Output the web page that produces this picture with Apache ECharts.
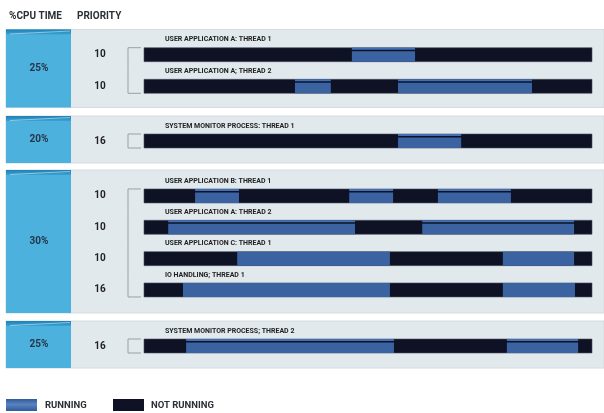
<!DOCTYPE html>
<html>
<head>
<meta charset="utf-8">
<title>CPU time by thread</title>
<script src="https://cdn.jsdelivr.net/npm/echarts@6/dist/echarts.min.js"></script>
<style>
  html, body { margin: 0; padding: 0; background: #ffffff; }
</style>
</head>
<body>
<div id="main" style="width:604px;height:413px;"></div>
<script type="text/javascript">
// cpu share per group
var cpuShare = ['25%', '20%', '30%', '25%'];

// one entry per thread
var threadNames = [
    'USER APPLICATION A: THREAD 1',
    'USER APPLICATION A; THREAD 2',
    'SYSTEM MONITOR PROCESS: THREAD 1',
    'USER APPLICATION B: THREAD 1',
    'USER APPLICATION A: THREAD 2',
    'USER APPLICATION C: THREAD 1',
    'IO HANDLING; THREAD 1',
    'SYSTEM MONITOR PROCESS; THREAD 2'
];
var priorities = [10, 10, 16, 10, 10, 10, 16, 16];
var threadGroup = [0, 0, 1, 2, 2, 2, 2, 3];

// running periods (time axis 0..100)
var runThread = [0, 1, 1, 2, 3, 3, 3, 4, 4, 5, 5, 6, 6, 7, 7];
var runStart  = [46.4, 33.7, 56.7, 56.7, 11.4, 45.8, 65.6, 5.4, 62.1, 20.8, 80.1, 8.7, 80.1, 9.4, 81.0];
var runEnd    = [60.5, 41.7, 86.6, 70.8, 21.2, 55.6, 81.9, 47.1, 96.0, 54.9, 96.0, 54.9, 96.2, 55.8, 96.9];

// layout, not data
var timeMax = 100;
var panelTop = [29.5, 116, 170, 321];
var panelHeight = [78, 47, 143, 47];
var gridTop = [38.9, 125, 180.3, 330];
var gridRowH = [31.6, 32, 31.33, 32];
var flatThreads = [5, 6];   // running blocks drawn without the top stripe
var barH = 14;

var DARK = '#0e1224';
var BLUE = '#3b63a2';
var SKY = '#4cb1dc';

var mychart = echarts.init(document.getElementById('main'));

function rowInGroup(t) {
    var n = 0;
    for (var i = 0; i < t; i++) if (threadGroup[i] === threadGroup[t]) n++;
    return n;
}

function renderTrack(params, api) {
    var t = api.value(3);
    var p0 = api.coord([api.value(0), api.value(2)]);
    var p1 = api.coord([api.value(1), api.value(2)]);
    var cy = p0[1];
    var band = api.size([0, 1])[1];
    var g = threadGroup[t];
    var first = t === 0 || threadGroup[t - 1] !== g;
    var last = t === threadGroup.length - 1 || threadGroup[t + 1] !== g;
    var bx = p0[0] - 16, bx2 = p0[0] - 3;
    var y0 = first ? cy - barH / 2 : cy - band / 2;
    var y1 = last ? cy + barH / 2 : cy + band / 2;
    var kids = [
        { type: 'rect', shape: { x: p0[0], y: cy - barH / 2, width: p1[0] - p0[0], height: barH },
          style: { fill: DARK, stroke: '#4a5060', lineWidth: 0.6 } },
        { type: 'text', style: { x: p0[0] + 21, y: cy - 15, text: threadNames[t], fill: '#222',
          font: 'bold 7px Roboto', textVerticalAlign: 'middle' } },
        { type: 'text', style: { x: p0[0] - 44, y: cy, text: String(priorities[t]), fill: '#1f1f1f',
          font: 'bold 10px Roboto', textAlign: 'center', textVerticalAlign: 'middle' } },
        { type: 'line', shape: { x1: bx, y1: y0, x2: bx, y2: y1 }, style: { stroke: '#9aa0a6', lineWidth: 1 } }
    ];
    if (first) kids.push({ type: 'line', shape: { x1: bx, y1: y0, x2: bx2, y2: y0 }, style: { stroke: '#9aa0a6', lineWidth: 1 } });
    if (last) kids.push({ type: 'line', shape: { x1: bx, y1: y1, x2: bx2, y2: y1 }, style: { stroke: '#9aa0a6', lineWidth: 1 } });
    return { type: 'group', children: kids };
}

function renderRun(params, api) {
    var t = api.value(3);
    var p0 = api.coord([api.value(0), api.value(2)]);
    var p1 = api.coord([api.value(1), api.value(2)]);
    var top = p0[1] - barH / 2;
    var w = p1[0] - p0[0];
    var kids = [];
    if (flatThreads.indexOf(t) >= 0) {
        kids.push({ type: 'rect', shape: { x: p0[0], y: top, width: w, height: barH }, style: { fill: BLUE } });
    } else {
        kids.push({ type: 'rect', shape: { x: p0[0], y: top, width: w, height: 2 }, style: { fill: '#3f6fb5' } });
        kids.push({ type: 'rect', shape: { x: p0[0], y: top + 3.5, width: w, height: barH - 3.5 }, style: { fill: BLUE } });
    }
    return { type: 'group', children: kids };
}

var grids = [], xAxes = [], yAxes = [], series = [], graphics = [];

for (var g = 0; g < cpuShare.length; g++) {
    var rows = [];
    for (var t = 0; t < threadGroup.length; t++) if (threadGroup[t] === g) rows.push(String(rows.length));
    grids.push({ left: 144, right: 12, top: gridTop[g], height: gridRowH[g] * rows.length });
    xAxes.push({ type: 'value', gridIndex: g, min: 0, max: timeMax, show: false });
    yAxes.push({ type: 'category', gridIndex: g, data: rows, inverse: true, show: false });

    var tracks = [];
    for (var t2 = 0; t2 < threadGroup.length; t2++) {
        if (threadGroup[t2] === g) tracks.push([0, timeMax, rowInGroup(t2), t2]);
    }
    var runs = [];
    for (var k = 0; k < runThread.length; k++) {
        var th = runThread[k];
        if (threadGroup[th] === g) runs.push([runStart[k], runEnd[k], rowInGroup(th), th]);
    }
    series.push({ type: 'custom', xAxisIndex: g, yAxisIndex: g, renderItem: renderTrack,
        encode: { x: [0, 1], y: 2 }, data: tracks, silent: true, z: 2 });
    series.push({ type: 'custom', xAxisIndex: g, yAxisIndex: g, renderItem: renderRun,
        encode: { x: [0, 1], y: 2 }, data: runs, silent: true, z: 3 });

    // group panel
    var pt = panelTop[g], ph = panelHeight[g];
    graphics.push({ type: 'rect', z: -10, shape: { x: 6, y: pt, width: 598, height: ph },
        style: { fill: '#e2e9ed', stroke: '#d4dce1', lineWidth: 1 } });
    graphics.push({ type: 'rect', z: -9, shape: { x: 6, y: pt, width: 65, height: ph },
        style: { fill: SKY } });
    graphics.push({ type: 'rect', z: -8, shape: { x: 6, y: pt, width: 65, height: 5 },
        style: { fill: new echarts.graphic.LinearGradient(0, 0, 0, 1, [
            { offset: 0, color: '#1f80b6' }, { offset: 1, color: '#3aa2d2' }]) } });
    graphics.push({ type: 'polyline', z: -7, shape: { points: [[10, pt + 4.5], [40, pt + 3], [70, pt + 1.5]] },
        style: { stroke: 'rgba(255,255,255,0.45)', lineWidth: 1, fill: null } });
    graphics.push({ type: 'text', z: 5, style: { x: 39, y: pt + ph / 2, text: cpuShare[g],
        font: 'bold 10px Roboto', fill: '#25364a', textAlign: 'center', textVerticalAlign: 'middle' } });
}

// headers
graphics.push({ type: 'text', style: { x: 9, y: 16, text: '%CPU TIME', font: 'bold 10px Roboto', fill: '#2b2f36', textVerticalAlign: 'middle' } });
graphics.push({ type: 'text', style: { x: 77, y: 16, text: 'PRIORITY', font: 'bold 10px Roboto', fill: '#2b2f36', textVerticalAlign: 'middle' } });

// legend
graphics.push({ type: 'rect', shape: { x: 6, y: 399, width: 31, height: 12 },
    style: { fill: new echarts.graphic.LinearGradient(0, 0, 0, 1, [
        { offset: 0, color: '#2f5b9c' }, { offset: 0.45, color: '#5a82bd' }, { offset: 1, color: '#2f5b9c' }]) } });
graphics.push({ type: 'text', style: { x: 45, y: 405.5, text: 'RUNNING', font: 'bold 9.5px Roboto', fill: '#2b2f36', textVerticalAlign: 'middle' } });
graphics.push({ type: 'rect', shape: { x: 113, y: 399, width: 31, height: 12 }, style: { fill: DARK } });
graphics.push({ type: 'text', style: { x: 151, y: 405.5, text: 'NOT RUNNING', font: 'bold 9.5px Roboto', fill: '#2b2f36', textVerticalAlign: 'middle' } });

var option = {
    animation: false,
    grid: grids,
    xAxis: xAxes,
    yAxis: yAxes,
    series: series,
    graphic: graphics
};
mychart.setOption(option);
</script>
</body>
</html>
